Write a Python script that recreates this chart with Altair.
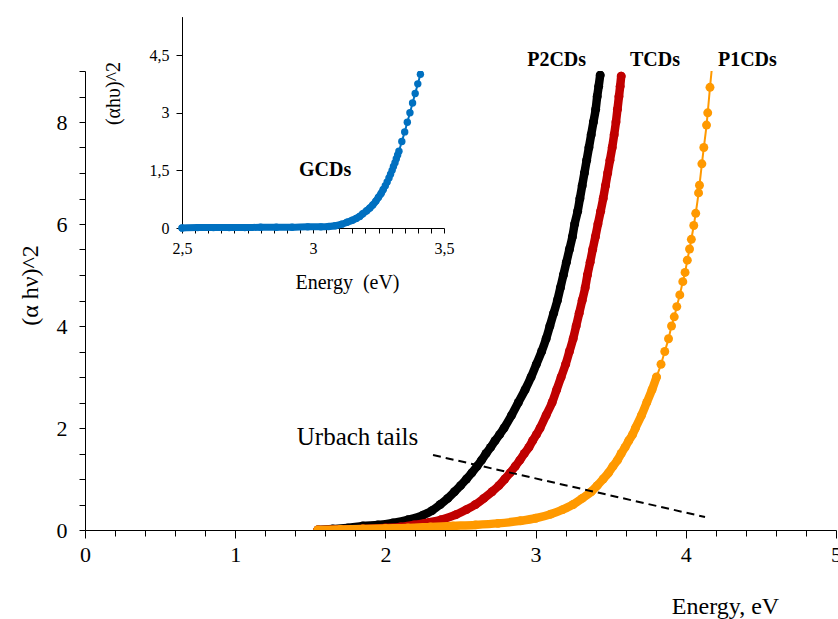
import altair as alt
import pandas as pd

# ---------------- data ----------------
# P2CDs (black)
p2_x = [1.55, 1.65, 1.75, 1.85, 1.95, 2.05, 2.15, 2.25, 2.31, 2.365, 2.415, 2.46, 2.50,
        2.54, 2.575, 2.61, 2.64, 2.67, 2.70, 2.73, 2.76, 2.79, 2.84, 2.885, 2.93, 2.97,
        3.005, 3.04, 3.07, 3.095, 3.12, 3.145, 3.165, 3.185, 3.205, 3.225, 3.245, 3.26,
        3.28, 3.295, 3.31, 3.325, 3.34, 3.355, 3.37, 3.385, 3.40, 3.41, 3.42, 3.43]
p2_y = [0.00, 0.02, 0.04, 0.08, 0.10, 0.14, 0.20, 0.29, 0.38, 0.50, 0.62, 0.75, 0.87,
        1.00, 1.12, 1.25, 1.37, 1.50, 1.62, 1.75, 1.87, 2.00, 2.25, 2.50, 2.75, 3.00,
        3.25, 3.50, 3.75, 4.00, 4.25, 4.50, 4.75, 5.00, 5.25, 5.50, 5.75, 6.00,
        6.25, 6.50, 6.75, 7.00, 7.25, 7.50, 7.75, 8.00, 8.25, 8.50, 8.70, 8.92]

# TCDs (red)
t_x = [1.55, 1.70, 1.85, 2.00, 2.10, 2.19, 2.29, 2.37, 2.47, 2.54, 2.60, 2.655, 2.71,
       2.755, 2.795, 2.83, 2.865, 2.895, 2.925, 2.955, 2.98, 3.005, 3.03, 3.07, 3.11,
       3.14, 3.17, 3.20, 3.225, 3.25, 3.27, 3.29, 3.31, 3.33, 3.345, 3.363, 3.38, 3.398,
       3.415, 3.433, 3.45, 3.465, 3.48, 3.495, 3.51, 3.523, 3.535, 3.545, 3.555, 3.563, 3.57]
t_y = [0.00, 0.01, 0.02, 0.04, 0.06, 0.10, 0.15, 0.20, 0.30, 0.40, 0.50, 0.62, 0.75,
       0.87, 1.00, 1.12, 1.25, 1.37, 1.50, 1.62, 1.75, 1.87, 2.00, 2.25, 2.50,
       2.75, 3.00, 3.25, 3.50, 3.75, 4.00, 4.25, 4.50, 4.75, 5.00, 5.25, 5.50, 5.75,
       6.00, 6.25, 6.50, 6.75, 7.00, 7.25, 7.50, 7.75, 8.00, 8.25, 8.50, 8.70, 8.90]

# P1CDs (orange)
p1_x = [1.55, 1.70, 1.85, 2.00, 2.15, 2.30, 2.45, 2.60, 2.75, 2.90, 3.00, 3.10, 3.18,
        3.25, 3.31, 3.37, 3.41, 3.45, 3.485, 3.515, 3.545, 3.57, 3.595, 3.62, 3.645,
        3.665, 3.705, 3.74, 3.775, 3.805, 3.835, 3.86, 3.885, 3.905, 3.923, 3.94, 3.96,
        3.98, 3.995, 4.01, 4.025, 4.037, 4.053, 4.066, 4.085, 4.091, 4.107, 4.12, 4.138,
        4.146, 4.161, 4.185]
p1_y = [0.00, 0.01, 0.02, 0.03, 0.04, 0.06, 0.08, 0.10, 0.13, 0.18, 0.23, 0.31, 0.40,
        0.50, 0.62, 0.75, 0.87, 1.00, 1.12, 1.25, 1.37, 1.50, 1.62, 1.75, 1.87,
        2.00, 2.25, 2.50, 2.75, 3.00, 3.25, 3.50, 3.75, 4.00, 4.18, 4.38, 4.61,
        4.87, 5.05, 5.29, 5.51, 5.70, 5.97, 6.21, 6.61, 6.76, 7.18, 7.50, 7.94,
        8.18, 8.68, 9.40]

# GCDs (inset, blue)
g_x = [2.50, 2.56, 2.62, 2.68, 2.74, 2.80, 2.86, 2.92, 2.98, 3.03, 3.06, 3.085, 3.11,
       3.13, 3.15, 3.165, 3.178, 3.19, 3.205, 3.217, 3.228, 3.24, 3.25, 3.26, 3.268,
       3.276, 3.283, 3.29, 3.296, 3.302, 3.307, 3.313, 3.318, 3.323, 3.328, 3.339, 3.35,
       3.36, 3.37, 3.38, 3.39, 3.40, 3.41, 3.424]
g_y = [0.00, 0.01, 0.01, 0.01, 0.01, 0.02, 0.02, 0.02, 0.03, 0.03, 0.04, 0.06, 0.10,
       0.15, 0.20, 0.25, 0.30, 0.37, 0.45, 0.52, 0.60, 0.70, 0.80, 0.90, 1.00,
       1.10, 1.20, 1.30, 1.40, 1.50, 1.60, 1.70, 1.80, 1.90, 2.00, 2.25, 2.50,
       2.75, 3.00, 3.25, 3.50, 3.75, 4.00, 4.33]

# annotations
series_labels = ["P2CDs", "TCDs", "P1CDs"]
series_label_x = [3.14, 3.795, 4.41]
series_label_y = [9.22, 9.22, 9.22]
urbach_x = [2.317, 4.128]
urbach_y = [1.47, 0.255]
urbach_label = ["Urbach tails"]
urbach_label_x = [1.41]
urbach_label_y = [1.82]
gcd_label = ["GCDs"]
gcd_label_x = [3.046]
gcd_label_y = [1.51]

# axis ticks
main_x_ticks = [round(i * 0.2, 1) for i in range(26)]
main_y_ticks = [i * 0.5 for i in range(19)]
inset_x_ticks = [round(2.5 + i * 0.05, 2) for i in range(21)]
inset_y_ticks = [0, 1.5, 3, 4.5]

# ---------------- styling ----------------
FONT = "Liberation Serif"
W, H = 751, 459
BLACK, RED, ORANGE, BLUE = "#000000", "#C00000", "#FF9900", "#0070C0"

xs_main = alt.Scale(domain=[0, 5], nice=False, zero=False)
ys_main = alt.Scale(domain=[0, 9], nice=False, zero=False)
xs_in = alt.Scale(domain=[2.5, 3.5], nice=False, zero=False, range=[97, 359])
ys_in = alt.Scale(domain=[0, 5.5], nice=False, zero=False, range=[157, -54.4])

common_axis = dict(grid=False, domainColor="black", domainWidth=1, tickColor="black",
                   tickWidth=1, labelColor="black", labelFont=FONT, titleFont=FONT,
                   titleColor="black", titleFontWeight="normal", labelFlush=False,
                   labelOverlap=False, labelBound=False)

main_x_axis = alt.Axis(
    values=main_x_ticks, orient="bottom",
    labelExpr="datum.value % 1 === 0 ? format(datum.value, 'd') : ''",
    tickSize={"condition": {"test": "datum.value % 1 === 0", "value": 8}, "value": 6},
    labelFontSize=22, labelPadding=6,
    title="Energy, eV", titleFontSize=24, titleX=640, titleY=76,
    titleAlign="center", titleBaseline="middle", **common_axis)

main_y_axis = alt.Axis(
    values=main_y_ticks, orient="left",
    labelExpr="datum.value % 2 === 0 ? format(datum.value, 'd') : ''",
    tickSize=6, labelFontSize=22, labelPadding=12,
    title="(α hν)^2", titleFontSize=24, titleAngle=270, titleX=-55, titleY=214,
    titleAlign="center", titleBaseline="middle", **common_axis)

inset_x_axis = alt.Axis(
    values=inset_x_ticks, orient="bottom", offset=-302,
    labelExpr="abs(datum.value*2 - round(datum.value*2)) < 0.001 ? replace(format(datum.value, '~g'), '.', ',') : ''",
    tickSize=5, labelFontSize=16, labelPadding=7,
    title="Energy\u00a0 (eV)", titleFontSize=20, titleX=262, titleY=54,
    titleAlign="center", titleBaseline="middle", **common_axis)

inset_y_axis = alt.Axis(
    values=inset_y_ticks, orient="left", offset=-97,
    labelExpr="replace(format(datum.value, '~g'), '.', ',')",
    tickSize=6, labelFontSize=16, labelPadding=7,
    title="(αhυ)^2", titleFontSize=20, titleAngle=270, titleX=-69, titleY=22,
    titleAlign="center", titleBaseline="middle", **common_axis)


def mx():
    return alt.X("x:Q", scale=xs_main, axis=main_x_axis)


def my():
    return alt.Y("y:Q", scale=ys_main, axis=main_y_axis)


def ix():
    return alt.X("x:Q", scale=xs_in, axis=inset_x_axis)


def iy():
    return alt.Y("y:Q", scale=ys_in, axis=inset_y_axis)


def series_layers(xv, yv, color, band_max, X, Y, size, band_w):
    d = pd.DataFrame({"x": xv, "y": yv})
    base = alt.Chart(d).encode(x=X(), y=Y())
    band = base.transform_filter(f"datum.y <= {band_max}").mark_line(
        color=color, strokeWidth=band_w, strokeCap="round", strokeJoin="round",
        interpolate="monotone", clip=True)
    line = base.mark_line(color=color, strokeWidth=2, interpolate="monotone", clip=True)
    pts = base.mark_circle(color=color, size=size, opacity=1, clip=True)
    return [band, line, pts]


main_layers = []
main_layers += series_layers(p2_x, p2_y, BLACK, 99, mx, my, 80, 8.5)
main_layers += series_layers(t_x, t_y, RED, 99, mx, my, 80, 8.5)
main_layers += series_layers(p1_x, p1_y, ORANGE, 3.0, mx, my, 80, 8.5)

dash_df = pd.DataFrame({"x": urbach_x, "y": urbach_y})
main_layers.append(alt.Chart(dash_df).mark_line(color="black", strokeWidth=2, strokeDash=[8, 5])
                   .encode(x=mx(), y=my()))

lab_df = pd.DataFrame({"x": series_label_x, "y": series_label_y, "t": series_labels})
main_layers.append(alt.Chart(lab_df).mark_text(font=FONT, fontSize=20, fontWeight="bold",
                                               color="black", align="center", baseline="middle")
                   .encode(x=mx(), y=my(), text="t:N"))

ub_df = pd.DataFrame({"x": urbach_label_x, "y": urbach_label_y, "t": urbach_label})
main_layers.append(alt.Chart(ub_df).mark_text(font=FONT, fontSize=25, color="black",
                                              align="left", baseline="middle")
                   .encode(x=mx(), y=my(), text="t:N"))

main = alt.layer(*main_layers)

inset_layers = series_layers(g_x, g_y, BLUE, 1.0, ix, iy, 55, 7)
g_df = pd.DataFrame({"x": gcd_label_x, "y": gcd_label_y, "t": gcd_label})
inset_layers.append(alt.Chart(g_df).mark_text(font=FONT, fontSize=20, fontWeight="bold",
                                              color="black", align="center", baseline="middle")
                    .encode(x=ix(), y=iy(), text="t:N"))
inset = alt.layer(*inset_layers)

chart = (alt.layer(main, inset)
         .resolve_scale(x="independent", y="independent")
         .resolve_axis(x="independent", y="independent")
         .properties(width=W, height=H,
                     padding={"left": 85, "top": 71, "right": 2, "bottom": 89},
                     autosize=alt.AutoSizeParams(type="none"),
                     background="white")
         .configure_view(stroke=None))

chart.save("out.html", embed_options={"renderer": "svg", "actions": False})
